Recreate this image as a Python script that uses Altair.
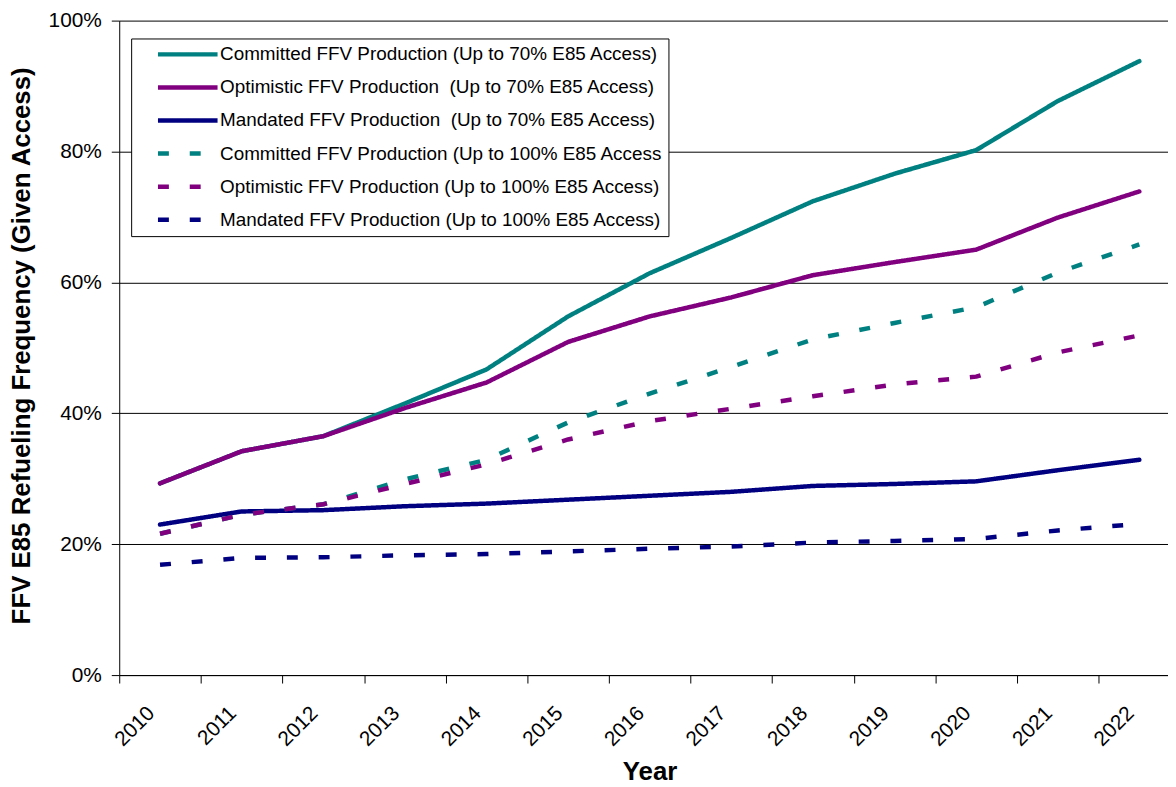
import altair as alt
import pandas as pd

years = list(range(2010, 2023))

series_names = [
    "Committed FFV Production (Up to 70% E85 Access)",
    "Optimistic FFV Production  (Up to 70% E85 Access)",
    "Mandated FFV Production  (Up to 70% E85 Access)",
    "Committed FFV Production (Up to 100% E85 Access",
    "Optimistic FFV Production (Up to 100% E85 Access)",
    "Mandated FFV Production (Up to 100% E85 Access)",
]

committed_70 = [29.3, 34.2, 36.5, 41.5, 46.7, 54.8, 61.4, 66.8, 72.4, 76.6, 80.2, 87.7, 93.8]
optimistic_70 = [29.3, 34.2, 36.5, 40.8, 44.7, 50.9, 54.8, 57.7, 61.1, 63.1, 65.0, 69.9, 73.9]
mandated_70 = [23.0, 25.0, 25.2, 25.8, 26.2, 26.8, 27.4, 28.0, 28.9, 29.2, 29.6, 31.3, 32.9]
committed_100 = [21.6, 24.5, 26.1, 29.9, 32.9, 38.6, 43.0, 47.1, 51.3, 53.8, 56.2, 61.5, 65.8]
optimistic_100 = [21.6, 24.5, 26.1, 29.2, 32.2, 36.0, 38.8, 40.7, 42.6, 44.4, 45.6, 49.3, 51.9]
mandated_100 = [16.85, 17.9, 18.0, 18.3, 18.5, 18.9, 19.3, 19.65, 20.25, 20.5, 20.8, 22.1, 23.1]

series_values = [committed_70, optimistic_70, mandated_70,
                 committed_100, optimistic_100, mandated_100]

colors = ["#008080", "#800080", "#000080", "#008080", "#800080", "#000080"]
dashes = [[1, 0], [1, 0], [1, 0], [11, 21], [11, 21], [11, 21]]

rows = []
for name, vals in zip(series_names, series_values):
    for y, v in zip(years, vals):
        rows.append({"series": name, "year": y, "value": v / 100.0})
df = pd.DataFrame(rows)

FONT = "Liberation Sans"
PX_PER_YEAR = 82.17
PLOT_W = 1056
PLOT_H = 659
x_max = 2009.5 + PLOT_W / PX_PER_YEAR

NB = "\u00a0"
legend = alt.Legend(
    title=None,
    orient="none",
    legendX=12,
    legendY=18,
    symbolType="stroke",
    symbolSize=3600,
    symbolStrokeWidth=4.5,
    labelFont=FONT,
    labelFontSize=19,
    labelColor="black",
    labelLimit=1000,
    labelOffset=0,
    labelExpr="replace(datum.label, '  ', ' " + NB + "')",
    padding=5,
    symbolOffset=19.5,
    clipHeight=22,
    rowPadding=11.3,
    strokeColor="black",
    fillColor="white",
    cornerRadius=0,
)

x_enc = alt.X(
    "year:Q",
    scale=alt.Scale(domain=[2009.5, x_max], nice=False, zero=False),
    axis=alt.Axis(
        title="Year",
        values=years,
        format="d",
        tickOffset=-PX_PER_YEAR / 2,
        labelOffset=PX_PER_YEAR / 2 - 9,
        labelAngle=-45,
        labelAlign="right",
        labelBaseline="middle",
        labelPadding=27,
        labelFont=FONT,
        labelFontSize=21,
        labelColor="black",
        tickColor="black",
        tickSize=8,
        domainColor="black",
        grid=False,
        titleFont=FONT,
        titleFontSize=26,
        titleFontWeight="bold",
        titleColor="black",
        titleX=534,
        titleY=97,
        titleBaseline="middle",
        titleAlign="center",
    ),
)

y_enc = alt.Y(
    "value:Q",
    scale=alt.Scale(domain=[0, 1], nice=False),
    axis=alt.Axis(
        title="FFV E85 Refueling Frequency (Given Access)",
        values=[0, 0.2, 0.4, 0.6, 0.8, 1.0],
        format=".0%",
        labelFont=FONT,
        labelFontSize=21,
        labelColor="black",
        labelPadding=10,
        tickColor="black",
        tickSize=8,
        domainColor="black",
        grid=True,
        gridColor="black",
        gridWidth=1,
        titleFont=FONT,
        titleFontSize=26,
        titleFontWeight="bold",
        titleColor="black",
        titleX=-90,
        titleY=327,
        titleAngle=270,
        titleBaseline="alphabetic",
        titleAlign="center",
    ),
)

color_enc = alt.Color(
    "series:N",
    scale=alt.Scale(domain=series_names, range=colors),
    legend=legend,
)
dash_enc = alt.StrokeDash(
    "series:N",
    scale=alt.Scale(domain=series_names, range=dashes),
    legend=legend,
)

base = alt.Chart(df).encode(x=x_enc, y=y_enc, color=color_enc, strokeDash=dash_enc)

solid = base.transform_filter(
    alt.FieldOneOfPredicate(field="series", oneOf=series_names[:3])
).mark_line(strokeWidth=4.5, strokeCap="round", strokeJoin="round")

dashed = base.transform_filter(
    alt.FieldOneOfPredicate(field="series", oneOf=series_names[3:])
).mark_line(strokeWidth=4.5, strokeCap="butt", strokeJoin="round")

chart = (
    alt.layer(solid, dashed)
    .properties(
        width=PLOT_W,
        height=PLOT_H,
        autosize=alt.AutoSizeParams(type="none"),
        padding={"left": 112, "top": 10, "right": 0, "bottom": 110},
        background="white",
    )
    .configure_view(stroke=None)
)

chart.save("out.html", embed_options={"renderer": "svg", "actions": False})
